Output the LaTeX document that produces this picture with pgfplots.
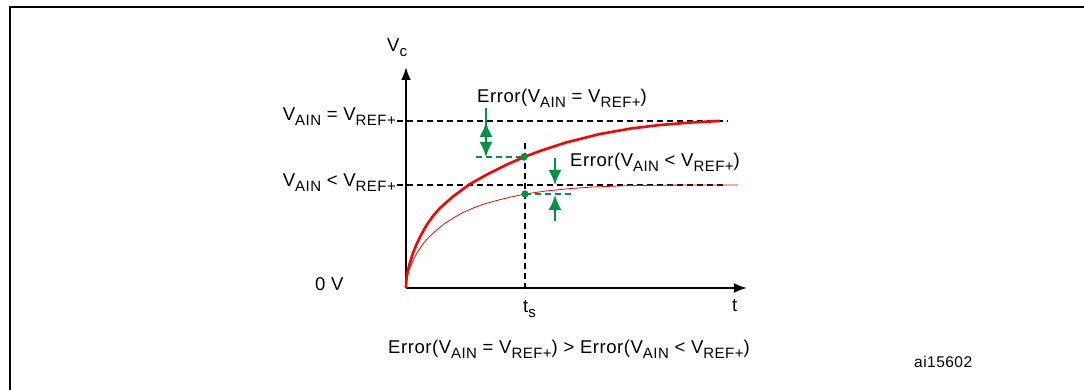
\documentclass[border=0pt]{standalone}
\usepackage{pgfplots}
\pgfplotsset{compat=1.18}
\usetikzlibrary{arrows.meta}
\usepackage{fontspec}
\setmainfont[LetterSpace=3]{Liberation Sans}
\definecolor{stgreen}{RGB}{0,146,69}
\newcommand{\sub}[1]{\raisebox{-4.6pt}{\fontsize{15}{15}\selectfont #1}}
\newcommand{\lbl}{\fontsize{18.5}{19}\selectfont}
\begin{document}
\begin{tikzpicture}
\begin{axis}[
  scale only axis, width=341pt, height=221pt,
  xmin=0, xmax=341, ymin=0, ymax=221,
  axis lines=left,
  axis line style={line width=2pt,-{Latex[length=13pt,width=10pt]}},
  xtick=\empty, ytick=\empty,
  clip=false,
]
% frame
\draw[line width=2pt] (axis cs:-396,-130) -- (axis cs:-396,281) -- (axis cs:700,281);
\coordinate (TL) at (axis cs:-406,288);
\coordinate (BR) at (axis cs:678,-102);
% reference levels
\addplot[black, line width=1.6pt, dash pattern=on 6pt off 4pt] coordinates {(-9,167) (322,167)};
\addplot[black, line width=1.6pt, dash pattern=on 6pt off 4pt] coordinates {(-9,103) (319,103)};
\addplot[black, line width=1.6pt, dash pattern=on 6pt off 4pt] coordinates {(119,145) (119,-5)};
% thin curve (V_AIN < V_REF+)
\addplot[red, line width=0.8pt] coordinates {
(0,0) (0.3,5) (1,10) (2,14.5) (4,20.5) (7.3,28) (11,35) (17.3,44.5) (23,51) (30.7,58)
(38,64) (47.3,70) (57,75.5) (67.3,80) (78,84) (90.7,87.5) (105,91) (119,94) (140,97)
(165,99.5) (187,101) (220,102.3) (254,102.8) (290,103) (332,103)};
% thick curve (V_AIN = V_REF+)
\addplot[red, line width=2.6pt] coordinates {
(0,0) (0.3,7) (1,13) (2,18.5) (4,25.5) (7,35) (10.7,44) (15,53) (20.7,63) (27,72) (34,80)
(47,91.5) (64,104) (81,113.5) (101,123.5) (118,131) (134,137) (160,145.5) (194,154)
(225,159.5) (254,163) (285,165.5) (314,167)};
% green guides
\addplot[stgreen, line width=1.6pt, dash pattern=on 6pt off 4pt] coordinates {(70,131) (118,131)};
\addplot[stgreen, line width=1.6pt, dash pattern=on 6pt off 4pt] coordinates {(119,94) (167,94)};
\addplot[only marks, mark=*, mark size=3.4pt, stgreen] coordinates {(118,131) (119,94)};
% green arrows
\addplot[stgreen, line width=2pt] coordinates {(80,180) (80,150)};
\addplot[stgreen, line width=2pt, {Latex[length=15pt,width=13pt]}-{Latex[length=15pt,width=13pt]}] coordinates {(80,166) (80,131)};
\addplot[stgreen, line width=2pt, -{Latex[length=15pt,width=13pt]}] coordinates {(149,130) (149,103)};
\addplot[stgreen, line width=2pt, -{Latex[length=15pt,width=13pt]}] coordinates {(149,67) (149,93)};
% labels
\node[anchor=base west, inner sep=0] at (axis cs:-19,236) {\lbl V\sub{c}};
\node[anchor=base east, inner sep=0] at (axis cs:-10,167) {\lbl V\sub{AIN} = V\sub{REF+}};
\node[anchor=base east, inner sep=0] at (axis cs:-10,101) {\lbl V\sub{AIN} < V\sub{REF+}};
\node[anchor=base west, inner sep=0] at (axis cs:71,185) {\lbl Error(V\sub{AIN} = V\sub{REF+})};
\node[anchor=base west, inner sep=0] at (axis cs:164,121) {\lbl Error(V\sub{AIN} < V\sub{REF+})};
\node[anchor=base west, inner sep=0] at (axis cs:-91,-3) {\lbl 0 V};
\node[anchor=base west, inner sep=0] at (axis cs:117,-25) {\lbl t\sub{s}};
\node[anchor=base west, inner sep=0] at (axis cs:326,-24) {\lbl t};
\node[anchor=base west, inner sep=0] at (axis cs:-18,-66) {\lbl Error(V\sub{AIN} = V\sub{REF+}) > Error(V\sub{AIN} < V\sub{REF+})};
\node[anchor=base west, inner sep=0] at (axis cs:508,-80) {\fontsize{15.5}{16}\selectfont ai15602};
\end{axis}
\pgfresetboundingbox
\path[use as bounding box] (TL) rectangle (BR);
\end{tikzpicture}
\end{document}
